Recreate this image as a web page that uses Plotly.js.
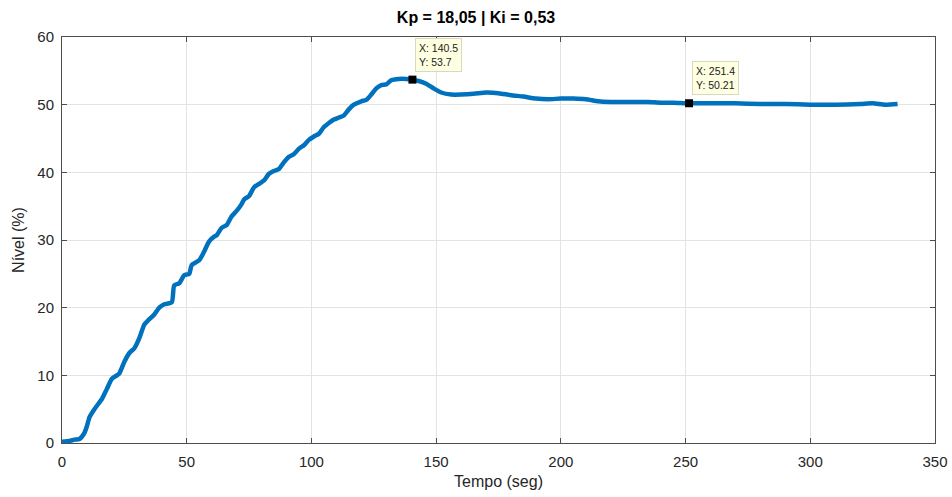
<!DOCTYPE html>
<html>
<head>
<meta charset="utf-8">
<script src="https://cdn.plot.ly/plotly-3.0.1.min.js"></script>
<style>html,body{margin:0;padding:0;background:#fff;}#chart{width:952px;height:497px;}</style>
</head>
<body>
<div id="chart"></div>
<script>
const tempo = [0,3,5,7,9,10,11,13,15,16,18,20,22,23,25,27,29,31,33,35,37,39,41,44,45,47,49,51,52,55,57,59,61,62,64,66,68,70,72,73,75,77,79,81,83,85,87,89,91,93,95,97,99,101,103,105,107,109,111,113,115,117,120,122,124,126,128,130,132,135,138,140.5,143,146,149,152,156,160,165,170,175,180,185,190,195,200,205,210,215,220,225,230,235,240,245,251.4,260,270,280,290,300,310,320,325,330,335];
const nivel = [0.2,0.3,0.5,0.6,1.5,2.5,3.8,5,6,6.5,8,9.5,10,10.3,12,13.3,14,15.5,17.5,18.3,19,20,20.5,20.8,23.3,23.6,24.8,25,26.3,27,28.3,29.8,30.5,30.7,31.8,32.2,33.5,34.3,35.3,36,36.5,37.8,38.3,38.8,39.8,40.2,40.5,41.5,42.3,42.7,43.5,44,44.8,45.3,45.7,46.7,47.3,47.8,48.1,48.4,49.3,50,50.5,50.7,51.5,52.4,52.9,53,53.6,53.8,53.8,53.7,53.5,53.1,52.4,51.8,51.5,51.5,51.6,51.8,51.7,51.4,51.2,50.9,50.8,50.9,50.9,50.8,50.5,50.4,50.4,50.4,50.4,50.3,50.3,50.21,50.2,50.2,50.1,50.1,50.0,50.0,50.1,50.2,50.0,50.1];
const tipX = [140.5, 251.4];
const tipY = [53.7, 50.21];
const xTicks = [0,50,100,150,200,250,300,350];
const yTicks = [0,10,20,30,40,50,60];
const titleText = 'Kp = 18,05 | Ki = 0,53';

const traces = [
  {x: tempo, y: nivel, type: 'scatter', mode: 'lines', line: {color: '#0072BD', width: 4.5, shape: 'spline', smoothing: 0.6}, hoverinfo: 'skip'},
  {x: tipX, y: tipY, type: 'scatter', mode: 'markers', marker: {color: '#000', size: 8, symbol: 'square'}, hoverinfo: 'skip'}
];

const annotations = tipX.map((xv, i) => ({
  x: xv, y: tipY[i], xref: 'x', yref: 'y',
  text: 'X: ' + xv + '<br>Y: ' + tipY[i],
  showarrow: false, align: 'left', xanchor: 'left', yanchor: 'bottom',
  xshift: 3, yshift: 8,
  bgcolor: '#ffffe1', bordercolor: '#d9d9c0', borderwidth: 1, borderpad: 3,
  font: {family: 'Liberation Sans, Arial, sans-serif', size: 10.5, color: '#222'}
}));

const axisCommon = {
  showgrid: true, gridcolor: '#e3e3e3', gridwidth: 1,
  showline: true, linecolor: '#4d4d4d', linewidth: 1, mirror: 'ticks',
  ticks: 'inside', ticklen: 5, tickcolor: '#4d4d4d',
  zeroline: false,
  tickfont: {family: 'Liberation Sans, Arial, sans-serif', size: 15, color: '#262626'}
};

const layout = {
  width: 952, height: 497,
  margin: {l: 62, r: 17, t: 37, b: 54},
  paper_bgcolor: '#fff', plot_bgcolor: '#fff',
  showlegend: false,
  title: {text: '<b>' + titleText + '</b>', x: 0.5, xanchor: 'center', y: 0.965, yanchor: 'middle',
          font: {family: 'Liberation Sans, Arial, sans-serif', size: 16, color: '#000'}},
  xaxis: Object.assign({}, axisCommon, {range: [0, 350], tickvals: xTicks, ticktext: xTicks.map(String),
    ticklabelstandoff: 5,
    title: {text: 'Tempo (seg)', standoff: 6, font: {family: 'Liberation Sans, Arial, sans-serif', size: 16, color: '#262626'}}}),
  yaxis: Object.assign({}, axisCommon, {range: [0, 60], tickvals: yTicks, ticktext: yTicks.map(String),
    ticklabelstandoff: 4,
    title: {text: 'Nível (%)', standoff: 8, font: {family: 'Liberation Sans, Arial, sans-serif', size: 16, color: '#262626'}}}),
  annotations: annotations
};

Plotly.newPlot('chart', traces, layout, {staticPlot: true, displayModeBar: false});
</script>
</body>
</html>
